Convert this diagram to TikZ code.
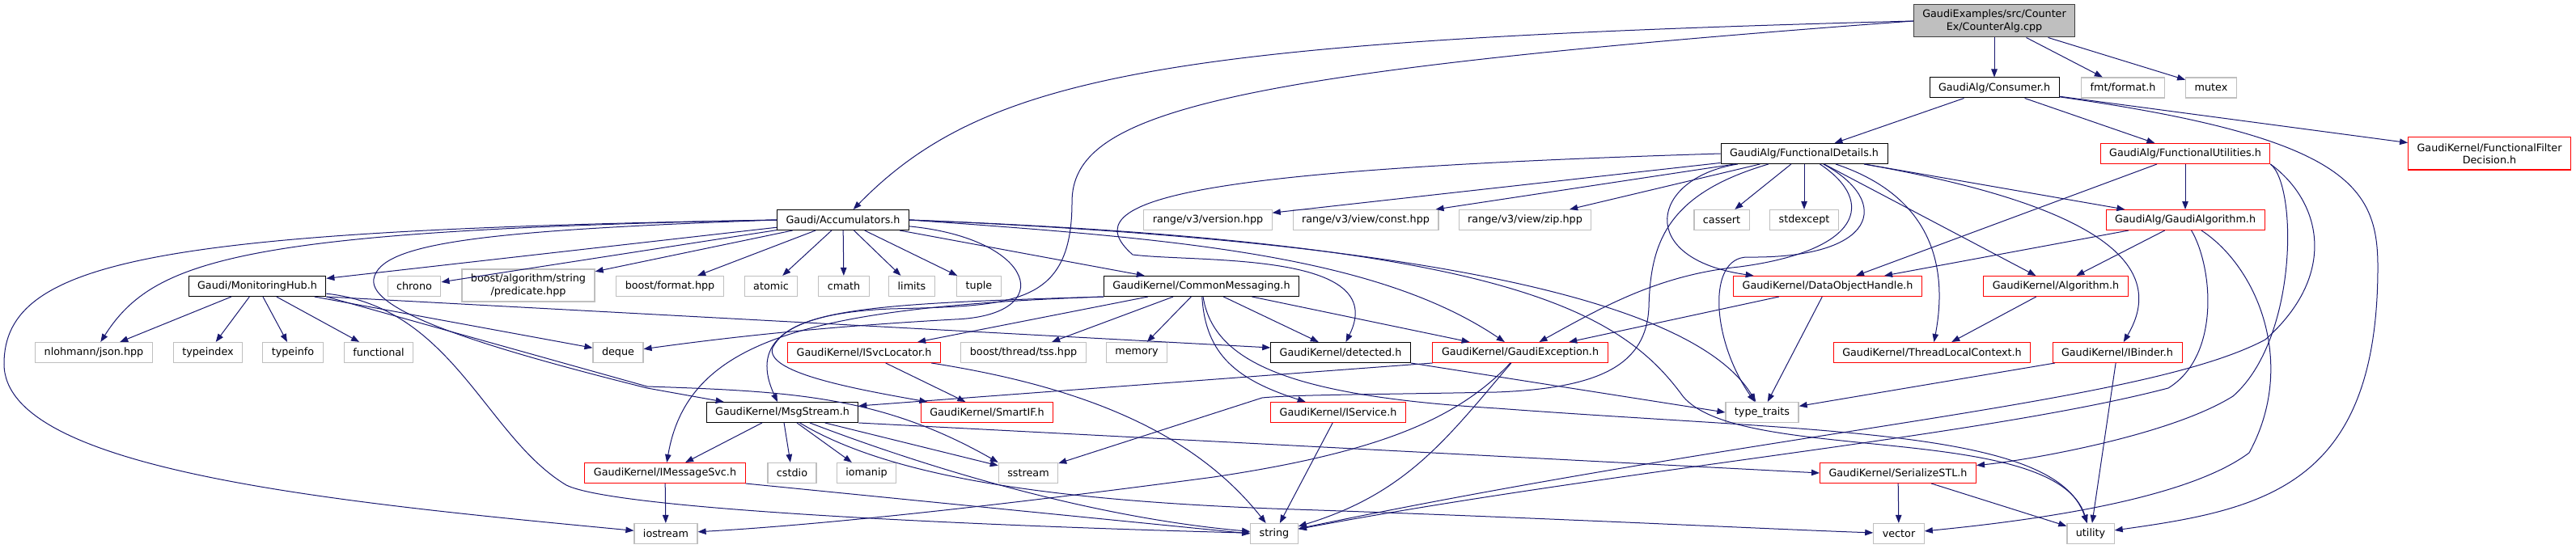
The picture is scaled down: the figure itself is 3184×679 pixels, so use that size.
\documentclass[tikz,border=0pt]{standalone}
\usepackage{fontspec}
\setmainfont{DejaVu Sans}
\usepackage{tikz}
\usetikzlibrary{arrows.meta}
\definecolor{edgeblue}{HTML}{191970}
\definecolor{extgray}{HTML}{BFBFBF}
\definecolor{truncred}{HTML}{FF0000}
\definecolor{rootfill}{HTML}{BFBFBF}
\definecolor{rootline}{HTML}{404040}

\begin{document}
\begin{tikzpicture}[x=1pt, y=-1pt,
  hdr/.style={rectangle, draw=black, line width=1pt, minimum height=25pt,
    inner xsep=11pt, inner ysep=0pt, align=center,
    font=\fontsize{12.75}{15.3}\selectfont},
  trunc/.style={hdr, draw=truncred},
  ext/.style={hdr, draw=extgray, line width=1.2pt},
  root/.style={hdr, draw=rootline, fill=rootfill, minimum height=40pt},
  dep/.style={draw=edgeblue, line width=1pt, -{Triangle[length=10pt,width=7.5pt]}}]
\useasboundingbox (0,0) rectangle (3184,679);
%%%%%%%%%%%%%%
\node[root] (cpp) at (2465,26) {GaudiExamples/src/Counter\\Ex/CounterAlg.cpp};
\node[hdr] (cons) at (2465,108.5) {GaudiAlg/Consumer.h};
\node[ext] (fmt) at (2624,108.5) {fmt/format.h};
\node[ext] (mutex) at (2733,108.5) {mutex};
%%%%%%%%%%%%%%
\node[hdr] (fdet) at (2230,190) {GaudiAlg/FunctionalDetails.h};
\node[trunc] (futil) at (2701,190) {GaudiAlg/FunctionalUtilities.h};
\node[trunc, minimum height=40pt] (ffd) at (3077,190) {GaudiKernel/FunctionalFilter\\Decision.h};
%%%%%%%%%%%%%%
\node[hdr] (acc) at (1042,272) {Gaudi/Accumulators.h};
\node[ext] (rver) at (1493,272) {range/v3/version.hpp};
\node[ext] (rconst) at (1688,272) {range/v3/view/const.hpp};
\node[ext] (rzip) at (1885,272) {range/v3/view/zip.hpp};
\node[ext] (cassert) at (2128,272) {cassert};
\node[ext] (stdexc) at (2230,272) {stdexcept};
\node[trunc] (galg) at (2701,272) {GaudiAlg/GaudiAlgorithm.h};
%%%%%%%%%%%%%%
\node[hdr] (mhub) at (318,354) {Gaudi/MonitoringHub.h};
\node[ext] (chrono) at (512,354) {chrono};
\node[ext, minimum height=40pt] (bpred) at (653,353) {boost/algorithm/string\\/predicate.hpp};
\node[ext] (bfmt) at (828,354) {boost/format.hpp};
\node[ext] (atomic) at (953,354) {atomic};
\node[ext] (cmath) at (1043,354) {cmath};
\node[ext] (limits) at (1127,354) {limits};
\node[ext] (tuple) at (1210,354) {tuple};
\node[hdr] (cmsg) at (1485,354) {GaudiKernel/CommonMessaging.h};
\node[trunc] (dohdl) at (2259,354) {GaudiKernel/DataObjectHandle.h};
\node[trunc] (algo) at (2541,354) {GaudiKernel/Algorithm.h};
%%%%%%%%%%%%%%
\node[ext] (json) at (116,436) {nlohmann/json.hpp};
\node[ext] (tindex) at (257,436) {typeindex};
\node[ext] (tinfo) at (362,436) {typeinfo};
\node[ext] (functional) at (468,436) {functional};
\node[ext] (deque) at (764,436) {deque};
\node[trunc] (isvc) at (1068,436) {GaudiKernel/ISvcLocator.h};
\node[ext] (tss) at (1265,436) {boost/thread/tss.hpp};
\node[ext] (memory) at (1405,436) {memory};
\node[hdr] (detect) at (1657,436) {GaudiKernel/detected.h};
\node[trunc] (gexc) at (1879,436) {GaudiKernel/GaudiException.h};
\node[trunc] (tlc) at (2388,436) {GaudiKernel/ThreadLocalContext.h};
\node[trunc] (ibind) at (2617,436) {GaudiKernel/IBinder.h};
%%%%%%%%%%%%%%
\node[hdr] (msg) at (967,510) {GaudiKernel/MsgStream.h};
\node[trunc] (smartif) at (1220,510) {GaudiKernel/SmartIF.h};
\node[trunc] (iserv) at (1654,510) {GaudiKernel/IService.h};
\node[ext] (ttraits) at (2178,510) {type\_traits};
%%%%%%%%%%%%%%
\node[trunc] (imsg) at (822,585) {GaudiKernel/IMessageSvc.h};
\node[ext] (cstdio) at (979,585) {cstdio};
\node[ext] (iomanip) at (1071,585) {iomanip};
\node[ext] (sstream) at (1271,585) {sstream};
\node[trunc] (sstl) at (2346,585) {GaudiKernel/SerializeSTL.h};
%%%%%%%%%%%%%%
\node[ext] (iostream) at (823,660) {iostream};
\node[ext] (string) at (1575,660) {string};
\node[ext] (vector) at (2347,660) {vector};
\node[ext] (utility) at (2584,660) {utility};
%%%%%%%%%%%%%%
\coordinate (auxcpp) at (1325,250);
\coordinate (auxcpp2) at (1100,382);
\coordinate (auxcons) at (2939,330);
\coordinate (auxloop1) at (1400,315);
\coordinate (auxtt) at (2160,318);
\coordinate (auxgx) at (2150,330);
\coordinate (auxss1) at (2038,380);
\coordinate (auxss2) at (1850,485);
\coordinate (auxss3) at (1560,492);
\coordinate (auxfu1) at (2760,490);
\coordinate (auxfu2) at (2800,420);
\coordinate (auxga1) at (2680,480);
\coordinate (auxga2) at (2780,560);
\coordinate (auxacc1) at (5,450);
\coordinate (auxacc2) at (462,345);
\coordinate (auxacc3) at (800,480);
\coordinate (auxacc4) at (1180,395);
\coordinate (auxacc5) at (2080,490);
\coordinate (auxmh1) at (700,600);
\coordinate (auxmh2) at (800,478);
\coordinate (auxcm1) at (955,430);
\coordinate (auxcm2) at (1850,505);
\coordinate (auxms1) at (1600,630);
\coordinate (auxgx2) at (1500,590);
%%%%%%%%%%%%%%
\draw[dep] (cpp.west) .. controls (1450,50) and (1220,90) .. (acc);
\draw[dep] (cpp) -- (cons);
\draw[dep] (cpp) -- (fmt);
\draw[dep] (cpp) -- (mutex);
\draw[dep] (cpp.west) .. controls (1500,90) and (1325,140) .. (auxcpp)
  .. controls (1325,380) and (1250,378) .. (auxcpp2)
  .. controls (960,388) and (930,430) .. (msg);
%%%%%%%%%%%%%%
\draw[dep] (cons) -- (fdet);
\draw[dep] (cons) -- (futil);
\draw[dep] (cons) -- (ffd);
\draw[dep] (cons) .. controls (2900,170) and (2939,230) .. (auxcons)
  .. controls (2939,600) and (2800,630) .. (utility);
%%%%%%%%%%%%%%
\draw[dep] (fdet) -- (rver);
\draw[dep] (fdet) -- (rconst);
\draw[dep] (fdet) -- (rzip);
\draw[dep] (fdet) -- (cassert);
\draw[dep] (fdet) -- (stdexc);
\draw[dep] (fdet) -- (galg);
\draw[dep] (fdet) -- (algo);
\draw[dep] (fdet) .. controls (2600,255) and (2680,330) .. (ibind);
\draw[dep] (fdet) .. controls (2380,240) and (2410,320) .. (tlc);
\draw[dep] (fdet) .. controls (2040,220) and (2020,320) .. (dohdl);
\draw[dep] (fdet) .. controls (2340,250) and (2320,320) .. (auxtt)
  .. controls (2110,318) and (2115,420) .. (ttraits);
\draw[dep] (fdet) .. controls (2320,250) and (2300,310) .. (auxgx)
  .. controls (2050,340) and (1980,380) .. (gexc);
\draw[dep] (fdet) .. controls (2060,240) and (2040,300) .. (auxss1)
  .. controls (2035,450) and (1980,480) .. (auxss2)
  .. controls (1700,488) and (1600,488) .. (auxss3) -- (sstream);
\draw[dep] (fdet.west) .. controls (1480,210) and (1320,245) .. (auxloop1)
  .. controls (1480,325) and (1720,310) .. (detect);
%%%%%%%%%%%%%%
\draw[dep] (futil) -- (dohdl);
\draw[dep] (futil) -- (galg);
\draw[dep] (futil.south east) .. controls (2840,230) and (2840,420) .. (auxfu1)
  .. controls (2680,540) and (2500,570) .. (sstl);
\draw[dep] (futil.south east) .. controls (2870,250) and (2890,340) .. (auxfu2)
  .. controls (2650,500) and (2200,530) .. (string);
%%%%%%%%%%%%%%
\draw[dep] (galg) -- (dohdl);
\draw[dep] (galg) -- (algo);
\draw[dep] (galg) .. controls (2735,330) and (2745,440) .. (auxga1)
  .. controls (2450,540) and (2000,580) .. (string);
\draw[dep] (galg) .. controls (2790,330) and (2840,450) .. (auxga2)
  .. controls (2700,620) and (2500,645) .. (vector);
%%%%%%%%%%%%%%
\draw[dep] (acc) -- (mhub);
\draw[dep] (acc) -- (chrono);
\draw[dep] (acc) -- (bpred);
\draw[dep] (acc) -- (bfmt);
\draw[dep] (acc) -- (atomic);
\draw[dep] (acc) -- (cmath);
\draw[dep] (acc) -- (limits);
\draw[dep] (acc) -- (tuple);
\draw[dep] (acc) -- (cmsg);
\draw[dep] (acc.west) .. controls (300,285) and (190,320) .. (json);
\draw[dep] (acc.west) .. controls (200,285) and (5,320) .. (auxacc1)
  .. controls (5,580) and (400,620) .. (iostream);
\draw[dep] (acc.west) .. controls (600,285) and (470,300) .. (auxacc2)
  .. controls (455,385) and (600,430) .. (auxacc3) -- (msg);
\draw[dep] (acc) .. controls (1280,295) and (1310,390) .. (auxacc4)
  .. controls (1000,405) and (880,420) .. (deque);
\draw[dep] (acc.east) .. controls (1450,295) and (1700,315) .. (gexc);
\draw[dep] (acc.east) .. controls (1800,300) and (2100,380) .. (ttraits);
\draw[dep] (acc.east) .. controls (1850,300) and (2000,380) .. (auxacc5)
  .. controls (2150,575) and (2540,520) .. (utility);
%%%%%%%%%%%%%%
\draw[dep] (mhub) -- (json);
\draw[dep] (mhub) -- (tindex);
\draw[dep] (mhub) -- (tinfo);
\draw[dep] (mhub) -- (functional);
\draw[dep] (mhub) -- (deque);
\draw[dep] (mhub.south east) -- ([yshift=6pt]detect.west);
\draw[dep] (mhub) .. controls (560,380) and (600,540) .. (auxmh1)
  .. controls (760,630) and (1200,650) .. (string);
\draw[dep] (mhub.south east) -- (auxmh2)
  .. controls (980,484) and (1090,490) .. (sstream.north west);
%%%%%%%%%%%%%%
\draw[dep] (cmsg) -- (isvc);
\draw[dep] (cmsg) -- (tss);
\draw[dep] (cmsg) -- (memory);
\draw[dep] (cmsg) -- (detect);
\draw[dep] (cmsg) -- (gexc);
\draw[dep] (cmsg) .. controls (1490,440) and (1530,470) .. (iserv);
\draw[dep] (cmsg.south west) .. controls (1000,380) and (850,420) .. (imsg);
\draw[dep] (cmsg.south west) .. controls (1100,375) and (980,380) .. (auxcm1)
  .. controls (945,460) and (1050,480) .. (smartif);
\draw[dep] (cmsg) .. controls (1500,450) and (1600,490) .. (auxcm2)
  .. controls (2250,535) and (2540,530) .. (utility);
%%%%%%%%%%%%%%
\draw[dep] (isvc) -- (smartif);
\draw[dep] (isvc) .. controls (1350,480) and (1480,540) .. (string);
\draw[dep] (msg) -- (imsg);
\draw[dep] (msg) -- (cstdio);
\draw[dep] (msg) -- (iomanip);
\draw[dep] (msg) -- (sstream);
\draw[dep] (msg) .. controls (1150,580) and (1350,640) .. (string);
\draw[dep] (msg) .. controls (1100,590) and (1300,620) .. (auxms1)
  .. controls (1900,640) and (2200,655) .. (vector);
\draw[dep] (msg.south east) -- (sstl.west);
\draw[dep] (imsg) -- (iostream);
\draw[dep] (imsg.south east) -- (string.west);
\draw[dep] (iserv) -- (string);
%%%%%%%%%%%%%%
\draw[dep] (gexc.south west) -- ([yshift=8pt]msg.east);
\draw[dep] (gexc) .. controls (1800,520) and (1700,560) .. (auxgx2)
  .. controls (1200,630) and (1000,650) .. (iostream);
\draw[dep] (gexc) .. controls (1790,540) and (1740,610) .. (string);
\draw[dep] (dohdl) -- (gexc);
\draw[dep] (dohdl) -- (ttraits);
\draw[dep] (algo) -- (tlc);
\draw[dep] (ibind) -- (ttraits);
\draw[dep] (ibind) -- (utility);
\draw[dep] (sstl) -- (vector);
\draw[dep] (sstl) -- (utility);
\draw[dep] (detect.south east) -- (ttraits.west);
\end{tikzpicture}
\end{document}
